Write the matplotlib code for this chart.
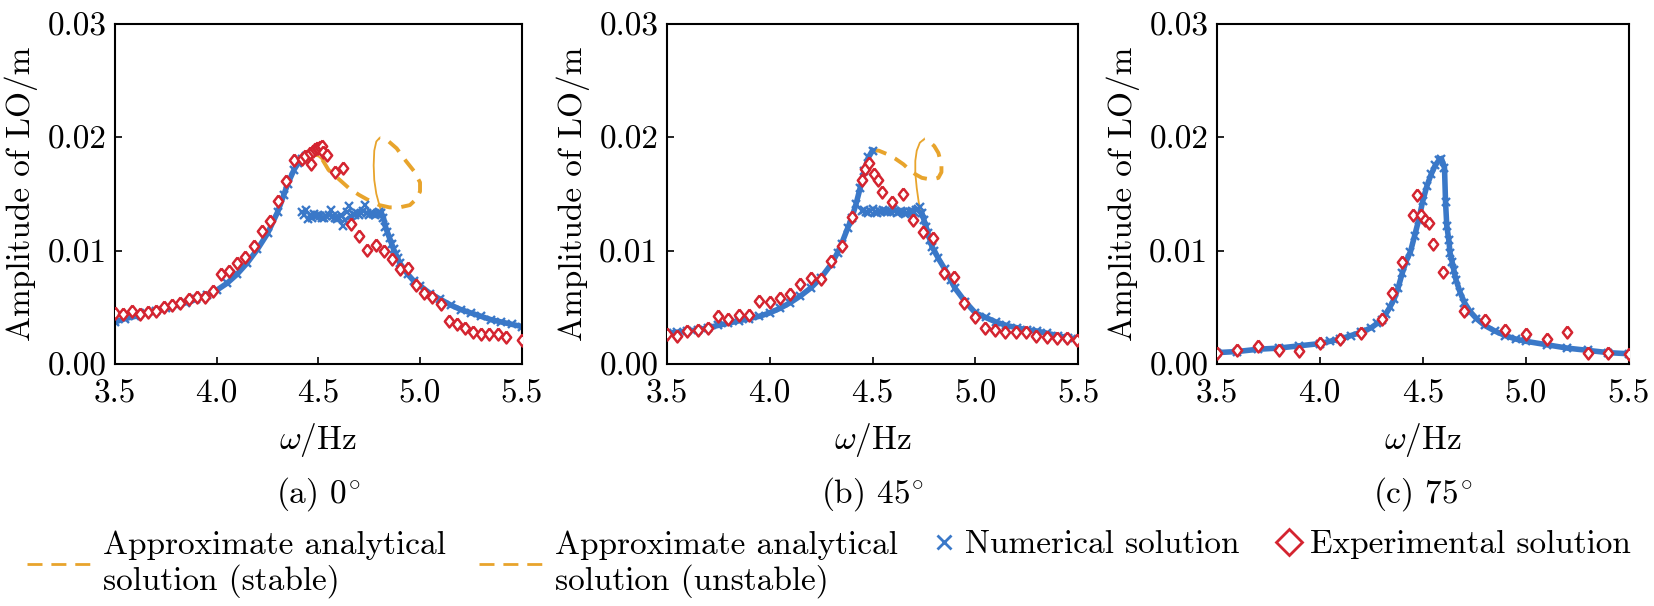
import numpy as np
import matplotlib
matplotlib.use("Agg")
import matplotlib.pyplot as plt
from matplotlib.lines import Line2D
from matplotlib.ticker import FormatStrFormatter

plt.rcParams["font.family"] = "serif"
plt.rcParams["font.serif"] = ["cmr10"]
plt.rcParams["mathtext.fontset"] = "cm"
plt.rcParams["axes.unicode_minus"] = False
plt.rcParams["axes.formatter.use_mathtext"] = True

# ---------------- data ----------------
xticks = [3.5, 4.0, 4.5, 5.0, 5.5]
yticks = [0.00, 0.01, 0.02, 0.03]
captions = [r"(a) $0^{\!\circ}$", r"(b) $45^{\!\circ}$", r"(c) $75^{\!\circ}$"]
legend_labels = ["Approximate analytical\nsolution (stable)",
                 "Approximate analytical\nsolution (unstable)",
                 "Numerical solution",
                 "Experimental solution"]

# ---- panel (a) 0 deg ----
exp_a_f = [3.500, 3.541, 3.582, 3.623, 3.664, 3.702, 3.741, 3.782, 3.821, 3.862,
           3.901, 3.942, 3.983, 4.020, 4.061, 4.100, 4.141, 4.182, 4.221, 4.262,
           4.301, 4.342, 4.380, 4.421, 4.434, 4.459, 4.462, 4.475, 4.483, 4.492,
           4.500, 4.508, 4.516, 4.524, 4.541, 4.582, 4.619, 4.660, 4.701, 4.741,
           4.782, 4.822, 4.863, 4.901, 4.942, 4.980, 5.021, 5.060, 5.101, 5.142,
           5.180, 5.221, 5.262, 5.299, 5.340, 5.381, 5.421, 5.500]
exp_a = [0.00453, 0.00441, 0.00470, 0.00441, 0.00462, 0.00470, 0.00500, 0.00521, 0.00541, 0.00571,
         0.00594, 0.00594, 0.00647, 0.00794, 0.00823, 0.00894, 0.00947, 0.01041, 0.01176, 0.01256,
         0.01438, 0.01615, 0.01794, 0.01806, 0.01830, 0.01860, 0.01765, 0.01880, 0.01890, 0.01900,
         0.01900, 0.01910, 0.01920, 0.01870, 0.01840, 0.01690, 0.01730, 0.01235, 0.01129, 0.01006,
         0.01050, 0.01000, 0.00924, 0.00835, 0.00844, 0.00697, 0.00629, 0.00594, 0.00529, 0.00379,
         0.00353, 0.00320, 0.00285, 0.00262, 0.00262, 0.00262, 0.00235, 0.00210]

num_a_up_f = [3.50, 3.55, 3.60, 3.65, 3.70, 3.75, 3.80, 3.85, 3.90, 3.95, 4.00, 4.05,
              4.10, 4.15, 4.20, 4.25, 4.30, 4.33, 4.35, 4.38, 4.40, 4.42, 4.44]
num_a_up = [0.0037, 0.0040, 0.0042, 0.0045, 0.0047, 0.0049, 0.0052, 0.0054, 0.0057, 0.0061, 0.0065, 0.0071,
            0.0079, 0.0089, 0.0101, 0.0115, 0.0134, 0.0149, 0.0159, 0.0171, 0.0177, 0.0181, 0.0183]
num_a_jump_f = [4.42, 4.43, 4.44, 4.45, 4.46, 4.47, 4.48, 4.49, 4.50, 4.51, 4.52, 4.53, 4.54,
                4.55, 4.56, 4.57, 4.58, 4.59, 4.60, 4.61, 4.62, 4.63, 4.64, 4.65, 4.66, 4.67,
                4.68, 4.69, 4.70, 4.71, 4.72, 4.73, 4.74, 4.75, 4.76, 4.77, 4.78, 4.79, 4.80]
num_a_jump = [0.0134, 0.0131, 0.0136, 0.0128, 0.0131, 0.0129, 0.0132, 0.0130, 0.0131, 0.0130, 0.0129, 0.0129, 0.0130,
              0.0131, 0.0136, 0.0130, 0.0129, 0.0128, 0.0129, 0.0131, 0.0122, 0.0127, 0.0134, 0.0139, 0.0130, 0.0132,
              0.0131, 0.0133, 0.0131, 0.0133, 0.0135, 0.0140, 0.0133, 0.0131, 0.0133, 0.0132, 0.0131, 0.0132, 0.0134]
num_a_dn_f = [4.81, 4.82, 4.83, 4.84, 4.85, 4.86, 4.87, 4.88, 4.89, 4.90, 4.92, 4.94, 4.97,
              5.00, 5.05, 5.10, 5.15, 5.20, 5.25, 5.30, 5.35, 5.40, 5.45, 5.50]
num_a_dn = [0.0133, 0.0129, 0.0121, 0.0116, 0.0111, 0.0106, 0.0101, 0.0097, 0.0093, 0.0089, 0.0084, 0.0079, 0.0073,
            0.0069, 0.0062, 0.0057, 0.0052, 0.0048, 0.0045, 0.0042, 0.0039, 0.0037, 0.0035, 0.0033]

ana_a_st1_f = [3.50, 3.70, 3.90, 4.00, 4.10, 4.20, 4.30, 4.35, 4.40, 4.45, 4.50, 4.52]
ana_a_st1 = [0.0037, 0.0047, 0.0057, 0.0065, 0.0079, 0.0101, 0.0134, 0.0159, 0.0177, 0.0184, 0.0183, 0.0180]
ana_a_un_f = [4.52, 4.55, 4.60, 4.65, 4.70, 4.74, 4.80, 4.85, 4.90, 4.95, 4.98, 5.00,
              5.00, 4.97, 4.93, 4.885, 4.84, 4.80]
ana_a_un = [0.0180, 0.0171, 0.0163, 0.0155, 0.0149, 0.0145, 0.0140, 0.0138, 0.0138, 0.0140, 0.0145, 0.0152,
            0.0160, 0.0170, 0.0179, 0.0190, 0.0197, 0.0199]
ana_a_st2_f = [4.80, 4.785, 4.775, 4.772, 4.775, 4.785, 4.80, 4.81, 4.83, 4.86, 4.90, 4.95,
               5.00, 5.10, 5.20, 5.30, 5.40, 5.50]
ana_a_st2 = [0.0199, 0.0196, 0.0188, 0.0175, 0.0162, 0.0150, 0.0140, 0.0134, 0.0121, 0.0106, 0.0089, 0.0077,
             0.0069, 0.0057, 0.0048, 0.0042, 0.0037, 0.0033]

# ---- panel (b) 45 deg ----
exp_b_f = [3.500, 3.549, 3.600, 3.650, 3.700, 3.750, 3.800, 3.850, 3.900, 3.950,
           4.000, 4.050, 4.100, 4.150, 4.200, 4.250, 4.300, 4.350, 4.400, 4.447,
           4.463, 4.484, 4.506, 4.527, 4.548, 4.597, 4.646, 4.698, 4.746, 4.794,
           4.846, 4.895, 4.945, 4.997, 5.045, 5.094, 5.146, 5.196, 5.244, 5.293,
           5.346, 5.395, 5.444, 5.495]
exp_b = [0.00264, 0.00249, 0.00287, 0.00299, 0.00314, 0.00425, 0.00396, 0.00431, 0.00431, 0.00557,
         0.00543, 0.00578, 0.00616, 0.00704, 0.00754, 0.00748, 0.00909, 0.01041, 0.01296, 0.01622,
         0.01716, 0.01774, 0.01677, 0.01622, 0.01519, 0.01428, 0.01501, 0.01267, 0.01164, 0.01106,
         0.00806, 0.00768, 0.00534, 0.00416, 0.00314, 0.00299, 0.00284, 0.00284, 0.00279, 0.00249,
         0.00240, 0.00230, 0.00230, 0.00210]

num_b_up_f = [3.50, 3.55, 3.60, 3.65, 3.70, 3.75, 3.80, 3.85, 3.90, 3.95, 4.00, 4.05, 4.10,
              4.15, 4.20, 4.25, 4.30, 4.33, 4.35, 4.38, 4.40, 4.42, 4.44, 4.46, 4.48, 4.50]
num_b_up = [0.0027, 0.0028, 0.0029, 0.0030, 0.0032, 0.0034, 0.0036, 0.0038, 0.0040, 0.0042, 0.0045, 0.0049, 0.0054,
            0.0060, 0.0067, 0.0076, 0.0088, 0.0098, 0.0106, 0.0120, 0.0129, 0.0141, 0.0155, 0.0170, 0.0182, 0.0188]
num_b_jump_f = [4.45, 4.46, 4.47, 4.48, 4.49, 4.50, 4.51, 4.52, 4.53, 4.54, 4.55, 4.56, 4.57, 4.58, 4.59,
                4.60, 4.61, 4.62, 4.63, 4.64, 4.65, 4.66, 4.67, 4.68, 4.69, 4.70, 4.71, 4.72, 4.73]
num_b_jump = [0.0135, 0.0136, 0.0134, 0.0133, 0.0135, 0.0137, 0.0134, 0.0133, 0.0135, 0.0134, 0.0136, 0.0135, 0.0134, 0.0135, 0.0134,
              0.0137, 0.0135, 0.0133, 0.0134, 0.0135, 0.0134, 0.0132, 0.0133, 0.0134, 0.0135, 0.0134, 0.0136, 0.0137, 0.0138]
num_b_dn_f = [4.74, 4.75, 4.76, 4.77, 4.78, 4.79, 4.80, 4.82, 4.85, 4.88, 4.90, 4.95, 5.00,
              5.05, 5.10, 5.15, 5.20, 5.25, 5.30, 5.35, 5.40, 5.45, 5.50]
num_b_dn = [0.0133, 0.0127, 0.0121, 0.0115, 0.0109, 0.0103, 0.0100, 0.0093, 0.0084, 0.0074, 0.0067, 0.0055, 0.0045,
            0.0041, 0.0037, 0.0034, 0.0032, 0.0030, 0.0029, 0.0027, 0.0025, 0.0023, 0.0022]

ana_b_st1_f = [3.50, 3.70, 3.90, 4.00, 4.10, 4.20, 4.30, 4.35, 4.40, 4.43, 4.455, 4.475, 4.49, 4.50]
ana_b_st1 = [0.0027, 0.0032, 0.0040, 0.0045, 0.0054, 0.0067, 0.0088, 0.0106, 0.0129, 0.0148, 0.0170, 0.0181, 0.0186, 0.0188]
ana_b_un_f = [4.50, 4.53, 4.57, 4.61, 4.65, 4.68, 4.71, 4.74, 4.77, 4.80, 4.82, 4.835,
              4.835, 4.82, 4.80, 4.77, 4.75]
ana_b_un = [0.0188, 0.0188, 0.0185, 0.0181, 0.0176, 0.0171, 0.0167, 0.0164, 0.0163, 0.0163, 0.0164, 0.0169,
            0.0176, 0.0186, 0.0192, 0.0197, 0.0198]
ana_b_st2_f = [4.75, 4.73, 4.715, 4.708, 4.708, 4.715, 4.725, 4.735, 4.75, 4.80, 4.90, 5.00,
               5.10, 5.20, 5.30, 5.40, 5.50]
ana_b_st2 = [0.0198, 0.0195, 0.0188, 0.0179, 0.0168, 0.0155, 0.0142, 0.0135, 0.0127, 0.0100, 0.0067, 0.0045,
             0.0037, 0.0032, 0.0029, 0.0025, 0.0022]

# ---- panel (c) 75 deg ----
exp_c_f = [3.50, 3.60, 3.70, 3.80, 3.90, 4.00, 4.10, 4.20, 4.30, 4.35, 4.40, 4.45, 4.47, 4.49,
           4.51, 4.53, 4.55, 4.60, 4.70, 4.80, 4.90, 5.00, 5.10, 5.20, 5.30, 5.40, 5.50]
exp_c = [0.00096, 0.00125, 0.00155, 0.00125, 0.00111, 0.00184, 0.00219, 0.00271, 0.00400, 0.00627,
         0.00900, 0.01310, 0.01490, 0.01310, 0.01270, 0.01240, 0.01060, 0.00810, 0.00470, 0.00390,
         0.00300, 0.00260, 0.00220, 0.00280, 0.00100, 0.00100, 0.00090]

num_c_f = [3.50, 3.60, 3.70, 3.80, 3.90, 4.00, 4.05, 4.10, 4.15, 4.20, 4.25, 4.28, 4.30, 4.32,
           4.34, 4.36, 4.38, 4.40, 4.42, 4.44, 4.46, 4.48, 4.50, 4.52, 4.54, 4.56, 4.58, 4.59,
           4.605, 4.610, 4.616, 4.626, 4.632, 4.642, 4.650, 4.661, 4.681, 4.702, 4.73, 4.76,
           4.80, 4.85, 4.90, 4.95, 5.00, 5.10, 5.20, 5.30, 5.40, 5.50]
num_c = [0.0010, 0.0011, 0.0013, 0.0014, 0.0016, 0.0018, 0.0020, 0.0022, 0.0025, 0.0028, 0.0032, 0.0036, 0.0039, 0.0044,
         0.0050, 0.0057, 0.0067, 0.0080, 0.0091, 0.0099, 0.0113, 0.0127, 0.0144, 0.0157, 0.0167, 0.0175, 0.0180, 0.0181,
         0.0173, 0.0143, 0.0122, 0.0109, 0.0098, 0.0090, 0.0083, 0.0074, 0.0063, 0.0054, 0.0046, 0.0040,
         0.0034, 0.0029, 0.0025, 0.0022, 0.0020, 0.0017, 0.0014, 0.0012, 0.0010, 0.0009]

ana_c_st_f = [3.50, 3.80, 4.00, 4.20, 4.30, 4.35, 4.40, 4.45, 4.50, 4.55, 4.58, 4.595, 4.605,
              4.61, 4.62, 4.63, 4.65, 4.70, 4.80, 4.90, 5.00, 5.20, 5.50]
ana_c_st = [0.0010, 0.0014, 0.0018, 0.0028, 0.0039, 0.0054, 0.0080, 0.0106, 0.0144, 0.0171, 0.0180, 0.0181, 0.0175,
            0.0150, 0.0115, 0.0100, 0.0083, 0.0054, 0.0034, 0.0025, 0.0020, 0.0014, 0.0009]

panels = [
    dict(exp=(exp_a_f, exp_a),
         num_lines=[(num_a_up_f, num_a_up), (num_a_dn_f, num_a_dn)],
         num_pts=[(num_a_jump_f, num_a_jump)],
         stable=[(ana_a_st1_f, ana_a_st1), (ana_a_st2_f, ana_a_st2)],
         unstable=[(ana_a_un_f, ana_a_un)]),
    dict(exp=(exp_b_f, exp_b),
         num_lines=[(num_b_up_f, num_b_up), (num_b_dn_f, num_b_dn)],
         num_pts=[(num_b_jump_f, num_b_jump)],
         stable=[(ana_b_st1_f, ana_b_st1), (ana_b_st2_f, ana_b_st2)],
         unstable=[(ana_b_un_f, ana_b_un)]),
    dict(exp=(exp_c_f, exp_c),
         num_lines=[(num_c_f, num_c)],
         num_pts=[],
         stable=[(ana_c_st_f, ana_c_st)],
         unstable=[]),
]

# ---------------- style ----------------
ORANGE = "#E8A42C"
BLUE = "#3A78C8"
RED = "#D42430"
FS = 24
DIAMOND = [(0, 1), (0.78, 0), (0, -1), (-0.78, 0), (0, 1)]

W, H = 1654, 606
fig = plt.figure(figsize=(W / 100, H / 100), dpi=100)

boxes = [(115, 521.7), (666.7, 1078.3), (1216.7, 1629)]
TOP, BOT = 23.5, 364

for (l, r), p, cap in zip(boxes, panels, captions):
    ax = fig.add_axes([l / W, 1 - BOT / H, (r - l) / W, (BOT - TOP) / H])
    for f, a in p["stable"]:
        ax.plot(f, a, color=ORANGE, lw=1.3, zorder=1.5)
    for f, a in p["unstable"]:
        ax.plot(f, a, color=ORANGE, lw=2.8, dashes=(3.7, 2.5), zorder=1.6)
    for f, a in p["num_lines"]:
        ax.plot(f, a, color=BLUE, lw=4.0, marker="x", ms=5.5, mew=1.7, zorder=2)
    for f, a in p["num_pts"]:
        ax.plot(f, a, ls="none", color=BLUE, marker="x", ms=5.5, mew=1.7, zorder=2)
    ef, ea = p["exp"]
    ax.plot(ef, ea, ls="none", marker=DIAMOND, ms=8.6, mfc="white", mec=RED, mew=1.8, zorder=3)

    ax.set_xlim(3.5, 5.5)
    ax.set_ylim(0, 0.03)
    ax.set_xticks(xticks)
    ax.set_yticks(yticks)
    ax.xaxis.set_major_formatter(FormatStrFormatter("%.1f"))
    ax.yaxis.set_major_formatter(FormatStrFormatter("%.2f"))
    ax.tick_params(direction="in", length=5, width=1.2, labelsize=FS, top=False, right=False)
    ax.tick_params(axis="x", pad=11)
    ax.tick_params(axis="y", pad=6)
    for sp in ax.spines.values():
        sp.set_linewidth(1.5)
    ax.set_ylabel("Amplitude of LO/m", fontsize=FS, labelpad=7)
    ax.set_xlabel(r"$\omega/\mathrm{Hz}$", fontsize=FS, labelpad=9)
    fig.text((l + r) / 2 / W, 1 - 494 / H, cap, ha="center", va="center", fontsize=FS)

# ---------------- legend ----------------
h_stable = Line2D([], [], color=ORANGE, lw=2.0, dashes=(5.4, 3.2))
h_unstable = Line2D([], [], color=ORANGE, lw=2.0, dashes=(5.4, 3.2))
h_num = Line2D([], [], ls="none", color=BLUE, marker="x", ms=10, mew=2.0)
h_exp = Line2D([], [], ls="none", marker="D", ms=13, mfc="white", mec=RED, mew=2.0)

legend_spec = [(h_stable, 27, 1.95), (h_unstable, 478.6, 1.95), (h_num, 935, 0.55), (h_exp, 1280, 0.55)]
for (h, x0, hl), lab in zip(legend_spec, legend_labels):
    leg = fig.legend([h], [lab], loc="upper left", bbox_to_anchor=(x0 / W, 1 - 530 / H),
                     frameon=False, fontsize=FS, handlelength=hl, handletextpad=0.34,
                     borderpad=0, borderaxespad=0)
    for t in leg.get_texts():
        t.set_linespacing(1.2)

fig.savefig("out.png", dpi=100)
